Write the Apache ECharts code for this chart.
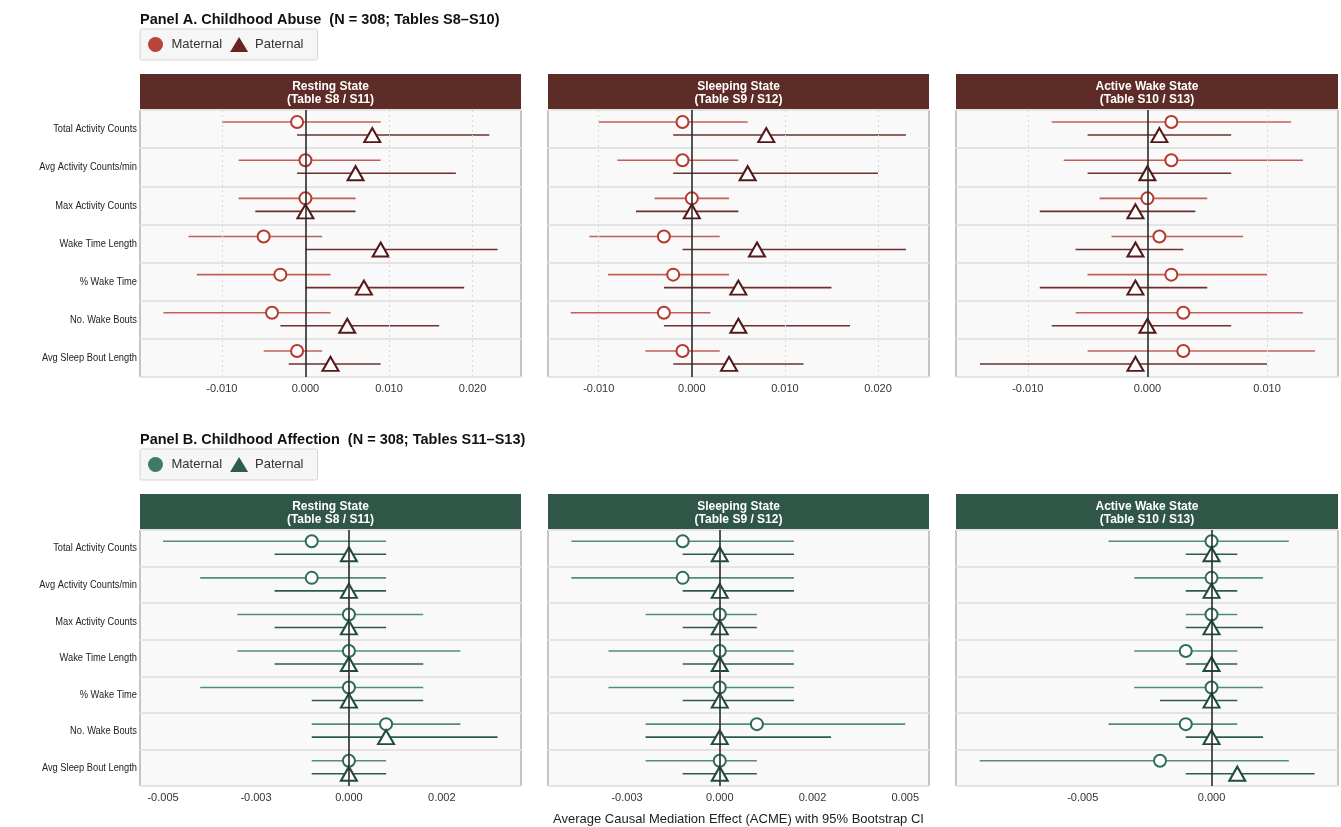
<!DOCTYPE html>
<html>
<head>
<meta charset="utf-8">
<title>ACME forest plots</title>
<script src="https://cdn.jsdelivr.net/npm/echarts@6/dist/echarts.min.js"></script>
<style>
  html, body { margin: 0; padding: 0; background: #ffffff; }
  #chart { width: 1341px; height: 827px; }
</style>
</head>
<body>
<div id="chart"></div>
<script>
// Outcome rows (top to bottom)
const categories = [
  'Total Activity Counts',
  'Avg Activity Counts/min',
  'Max Activity Counts',
  'Wake Time Length',
  '% Wake Time',
  'No. Wake Bouts',
  'Avg Sleep Bout Length'
];

const stateNames = ['Resting State', 'Sleeping State', 'Active Wake State'];
const tableNotes = ['(Table S8 / S11)', '(Table S9 / S12)', '(Table S10 / S13)'];

// Each row: [ACME estimate, CI lower, CI upper]
const abuseRestingMaternal = [
  [-0.001, -0.010, 0.009],
  [0.000, -0.008, 0.009],
  [0.000, -0.008, 0.006],
  [-0.005, -0.014, 0.002],
  [-0.003, -0.013, 0.003],
  [-0.004, -0.017, 0.003],
  [-0.001, -0.005, 0.002]
];
const abuseRestingPaternal = [
  [0.008, -0.001, 0.022],
  [0.006, -0.001, 0.018],
  [0.000, -0.006, 0.006],
  [0.009, 0.000, 0.023],
  [0.007, 0.000, 0.019],
  [0.005, -0.003, 0.016],
  [0.003, -0.002, 0.009]
];
const abuseSleepingMaternal = [
  [-0.001, -0.010, 0.006],
  [-0.001, -0.008, 0.005],
  [0.000, -0.004, 0.004],
  [-0.003, -0.011, 0.003],
  [-0.002, -0.009, 0.004],
  [-0.003, -0.013, 0.002],
  [-0.001, -0.005, 0.003]
];
const abuseSleepingPaternal = [
  [0.008, -0.002, 0.023],
  [0.006, -0.002, 0.020],
  [0.000, -0.006, 0.005],
  [0.007, -0.001, 0.023],
  [0.005, -0.003, 0.015],
  [0.005, -0.003, 0.017],
  [0.004, -0.002, 0.012]
];
const abuseActiveMaternal = [
  [0.002, -0.008, 0.012],
  [0.002, -0.007, 0.013],
  [0.000, -0.004, 0.005],
  [0.001, -0.003, 0.008],
  [0.002, -0.005, 0.010],
  [0.003, -0.006, 0.013],
  [0.003, -0.005, 0.014]
];
const abuseActivePaternal = [
  [0.001, -0.005, 0.007],
  [0.000, -0.005, 0.007],
  [-0.001, -0.009, 0.004],
  [-0.001, -0.006, 0.003],
  [-0.001, -0.009, 0.005],
  [0.000, -0.008, 0.007],
  [-0.001, -0.014, 0.010]
];
const affectionRestingMaternal = [
  [-0.001, -0.005, 0.001],
  [-0.001, -0.004, 0.001],
  [0.000, -0.003, 0.002],
  [0.000, -0.003, 0.003],
  [0.000, -0.004, 0.002],
  [0.001, -0.001, 0.003],
  [0.000, -0.001, 0.001]
];
const affectionRestingPaternal = [
  [0.000, -0.002, 0.001],
  [0.000, -0.002, 0.001],
  [0.000, -0.002, 0.001],
  [0.000, -0.002, 0.002],
  [0.000, -0.001, 0.002],
  [0.001, -0.001, 0.004],
  [0.000, -0.001, 0.001]
];
const affectionSleepingMaternal = [
  [-0.001, -0.004, 0.002],
  [-0.001, -0.004, 0.002],
  [0.000, -0.002, 0.001],
  [0.000, -0.003, 0.002],
  [0.000, -0.003, 0.002],
  [0.001, -0.002, 0.005],
  [0.000, -0.002, 0.001]
];
const affectionSleepingPaternal = [
  [0.000, -0.001, 0.002],
  [0.000, -0.001, 0.002],
  [0.000, -0.001, 0.001],
  [0.000, -0.001, 0.002],
  [0.000, -0.001, 0.002],
  [0.000, -0.002, 0.003],
  [0.000, -0.001, 0.001]
];
const affectionActiveMaternal = [
  [0.000, -0.004, 0.003],
  [0.000, -0.003, 0.002],
  [0.000, -0.001, 0.001],
  [-0.001, -0.003, 0.001],
  [0.000, -0.003, 0.002],
  [-0.001, -0.004, 0.001],
  [-0.002, -0.009, 0.003]
];
const affectionActivePaternal = [
  [0.000, -0.001, 0.001],
  [0.000, -0.001, 0.001],
  [0.000, -0.001, 0.002],
  [0.000, -0.001, 0.001],
  [0.000, -0.002, 0.001],
  [0.000, -0.001, 0.002],
  [0.001, -0.001, 0.004]
];

// Axis extents per facet
const abuseRanges = [[-0.0198, 0.0258], [-0.01545, 0.02548], [-0.0160, 0.01593]];
const affectionRanges = [[-0.00562, 0.00463], [-0.00463, 0.00564], [-0.00992, 0.00491]];

// Tick positions and their printed labels per facet
const abuseTickValues = [[-0.01, 0, 0.01, 0.02], [-0.01, 0, 0.01, 0.02], [-0.01, 0, 0.01]];
const abuseTickLabels = [['-0.010', '0.000', '0.010', '0.020'], ['-0.010', '0.000', '0.010', '0.020'], ['-0.010', '0.000', '0.010']];
const affectionTickValues = [[-0.005, -0.0025, 0, 0.0025], [-0.0025, 0, 0.0025, 0.005], [-0.005, 0]];
const affectionTickLabels = [['-0.005', '-0.003', '0.000', '0.002'], ['-0.003', '0.000', '0.002', '0.005'], ['-0.005', '0.000']];

const FONT = '"Liberation Sans", Arial, Helvetica, sans-serif';

const palettes = {
  abuse: {
    strip: '#5e2c26',
    matLine: '#c45f54', matMark: '#b5392d', matLegend: '#b8443a',
    patLine: '#6e2f2f', patMark: '#551818', patLegend: '#6a2222'
  },
  affection: {
    strip: '#2f5646',
    matLine: '#528e77', matMark: '#2f6c56', matLegend: '#3f7b64',
    patLine: '#2c5c49', patMark: '#1f4c3b', patLegend: '#2f5c4b'
  }
};

const colLeft = [140, 548, 956];
const colWidth = [381, 381, 382];
const rowsLayout = [
  { top: 110, height: 267, stripTop: 74, stripH: 36 },
  { top: 530, height: 256, stripTop: 494, stripH: 36 }
];

const facets = [
  { pal: palettes.abuse, row: 0, col: 0, mat: abuseRestingMaternal, pat: abuseRestingPaternal, range: abuseRanges[0], ticks: abuseTickValues[0], labels: abuseTickLabels[0] },
  { pal: palettes.abuse, row: 0, col: 1, mat: abuseSleepingMaternal, pat: abuseSleepingPaternal, range: abuseRanges[1], ticks: abuseTickValues[1], labels: abuseTickLabels[1] },
  { pal: palettes.abuse, row: 0, col: 2, mat: abuseActiveMaternal, pat: abuseActivePaternal, range: abuseRanges[2], ticks: abuseTickValues[2], labels: abuseTickLabels[2] },
  { pal: palettes.affection, row: 1, col: 0, mat: affectionRestingMaternal, pat: affectionRestingPaternal, range: affectionRanges[0], ticks: affectionTickValues[0], labels: affectionTickLabels[0] },
  { pal: palettes.affection, row: 1, col: 1, mat: affectionSleepingMaternal, pat: affectionSleepingPaternal, range: affectionRanges[1], ticks: affectionTickValues[1], labels: affectionTickLabels[1] },
  { pal: palettes.affection, row: 1, col: 2, mat: affectionActiveMaternal, pat: affectionActivePaternal, range: affectionRanges[2], ticks: affectionTickValues[2], labels: affectionTickLabels[2] }
];

const MAT_OFFSET = -7;
const PAT_OFFSET = 6;

function ciRenderer(offset, color, width) {
  return function (params, api) {
    const a = api.coord([api.value(0), api.value(2)]);
    const b = api.coord([api.value(1), api.value(2)]);
    return {
      type: 'line',
      shape: { x1: a[0], y1: a[1] + offset, x2: b[0], y2: b[1] + offset },
      style: { stroke: color, lineWidth: width }
    };
  };
}

const grids = [], xAxes = [], yAxes = [], series = [], graphics = [];

facets.forEach((f, i) => {
  const L = rowsLayout[f.row];
  grids.push({
    left: colLeft[f.col], top: L.top, width: colWidth[f.col], height: L.height,
    show: true, backgroundColor: '#f9f9f9', borderColor: '#8e8e8e', borderWidth: 1
  });
  const labelMap = {};
  f.ticks.forEach((v, k) => { labelMap[v.toFixed(4)] = f.labels[k]; });
  const isAxisTitle = (f.row === 1 && f.col === 1);
  xAxes.push({
    type: 'value', gridIndex: i, min: f.range[0], max: f.range[1],
    axisLine: { show: false }, axisTick: { show: false }, splitLine: { show: false },
    axisLabel: {
      show: true, customValues: f.ticks, margin: 6, fontSize: 11, color: '#333', fontFamily: FONT,
      showMinLabel: true, showMaxLabel: true,
      formatter: v => labelMap[Number(v).toFixed(4)] || ''
    },
    name: isAxisTitle ? 'Average Causal Mediation Effect (ACME) with 95% Bootstrap CI' : '',
    nameLocation: 'middle', nameGap: 27,
    nameTextStyle: { fontSize: 13, color: '#222', fontFamily: FONT }
  });
  yAxes.push({
    type: 'category', gridIndex: i, data: categories, inverse: true, boundaryGap: true,
    axisLine: { show: false }, axisTick: { show: false },
    axisLabel: { show: false },
    splitLine: { show: true, interval: 0, lineStyle: { color: '#e4e4e4', width: 2 } }
  });

  // reference lines: dotted gridlines at ticks, solid line at zero
  series.push({
    type: 'line', xAxisIndex: i, yAxisIndex: i, data: [], z: 1, silent: true,
    markLine: {
      silent: true, symbol: ['none', 'none'], animation: false, label: { show: false },
      data: f.ticks.filter(v => v !== 0).map(v => ({ xAxis: v, lineStyle: { color: '#d8d8d8', type: [2, 3], width: 1 } }))
        .concat([{ xAxis: 0, lineStyle: { color: '#2a2a2a', type: 'solid', width: 1.6 } }])
    }
  });

  series.push({
    type: 'custom', xAxisIndex: i, yAxisIndex: i, z: 2, silent: true,
    renderItem: ciRenderer(MAT_OFFSET, f.pal.matLine, 1.6),
    encode: { x: [0, 1], y: 2 },
    data: f.mat.map((r, k) => [r[1], r[2], k])
  });
  series.push({
    type: 'custom', xAxisIndex: i, yAxisIndex: i, z: 2, silent: true,
    renderItem: ciRenderer(PAT_OFFSET, f.pal.patLine, 1.6),
    encode: { x: [0, 1], y: 2 },
    data: f.pat.map((r, k) => [r[1], r[2], k])
  });
  series.push({
    name: 'Maternal', type: 'scatter', xAxisIndex: i, yAxisIndex: i, z: 3, silent: true,
    symbol: 'circle', symbolSize: 12, symbolOffset: [0, MAT_OFFSET],
    itemStyle: { color: '#ffffff', borderColor: f.pal.matMark, borderWidth: 2, opacity: 1 },
    data: f.mat.map((r, k) => [r[0], k])
  });
  series.push({
    name: 'Paternal', type: 'scatter', xAxisIndex: i, yAxisIndex: i, z: 3, silent: true,
    symbol: 'triangle', symbolSize: [16, 14], symbolOffset: [0, PAT_OFFSET],
    itemStyle: { color: '#ffffff', borderColor: f.pal.patMark, borderWidth: 2, opacity: 1 },
    data: f.pat.map((r, k) => [r[0], k])
  });

  // facet strip
  const g = grids[i];
  graphics.push({
    type: 'rect', left: g.left, top: L.stripTop, silent: true,
    shape: { width: g.width, height: L.stripH },
    style: { fill: f.pal.strip }
  });
  graphics.push({
    type: 'text', x: g.left + g.width / 2, y: L.stripTop + L.stripH / 2 + 1, silent: true,
    style: {
      text: stateNames[f.col] + '\n' + tableNotes[f.col],
      fill: '#ffffff', font: 'bold 12px ' + FONT, lineHeight: 13,
      align: 'center', verticalAlign: 'middle'
    }
  });
});

function legendFor(pal, top) {
  return {
    left: 140, top: top, orient: 'horizontal', selectedMode: false,
    padding: [8, 14, 8, 8], itemGap: 8, itemWidth: 18, itemHeight: 15,
    backgroundColor: '#f6f6f6', borderColor: '#d4d4d4', borderWidth: 1, borderRadius: 2,
    textStyle: { fontSize: 13, color: '#333', fontFamily: FONT, padding: [0, 0, 0, 2] },
    data: [
      { name: 'Maternal', icon: 'circle', itemStyle: { color: pal.matLegend, borderWidth: 0 } },
      { name: 'Paternal', icon: 'triangle', itemStyle: { color: pal.patLegend, borderWidth: 0 } }
    ]
  };
}

const option = {
  animation: false,
  backgroundColor: '#ffffff',
  textStyle: { fontFamily: FONT },
  title: [
    { text: 'Panel A. Childhood Abuse  (N = 308; Tables S8\u2013S10)', left: 135, top: 7,
      textStyle: { fontSize: 14.5, fontWeight: 'bold', color: '#111', fontFamily: FONT } },
    { text: 'Panel B. Childhood Affection  (N = 308; Tables S11\u2013S13)', left: 135, top: 427,
      textStyle: { fontSize: 14.5, fontWeight: 'bold', color: '#111', fontFamily: FONT } }
  ],
  legend: [legendFor(palettes.abuse, 29), legendFor(palettes.affection, 449)],
  grid: grids,
  xAxis: xAxes,
  yAxis: yAxes,
  series: series,
  graphic: graphics
};

const chart = echarts.init(document.getElementById('chart'), null, { renderer: 'canvas' });
chart.setOption(option);

// Row labels in a slightly condensed face, placed at each category's band centre on the left facets
const rowLabels = [];
[0, 3].forEach(gi => {
  const edge = grids[gi].left - 3;
  categories.forEach(name => {
    const p = chart.convertToPixel({ gridIndex: gi }, [0, name]);
    rowLabels.push({
      type: 'text', x: edge, y: p[1], scaleX: 0.81, silent: true,
      style: { text: name, fill: '#222', font: '11.5px ' + FONT, align: 'right', verticalAlign: 'middle' }
    });
  });
});
chart.setOption({ graphic: graphics.concat(rowLabels) });
</script>
</body>
</html>
